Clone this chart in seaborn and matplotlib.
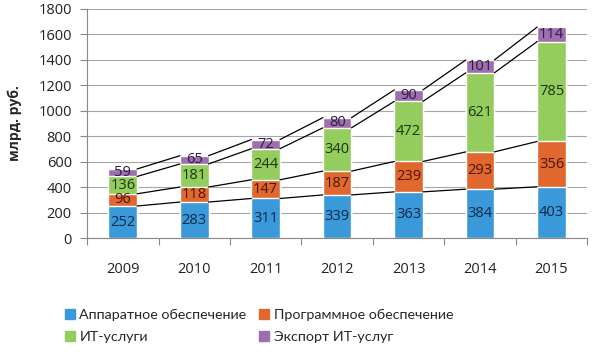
import numpy as np
import pandas as pd
import matplotlib
matplotlib.use("Agg")
import matplotlib.pyplot as plt
import matplotlib.patches as mpatches
import seaborn as sns

years = ["2009", "2010", "2011", "2012", "2013", "2014", "2015"]
hardware = [252, 283, 311, 339, 363, 384, 403]
software = [96, 118, 147, 187, 239, 293, 356]
it_services = [136, 181, 244, 340, 472, 621, 785]
it_export = [59, 65, 72, 80, 90, 101, 114]

series_names = ["Аппаратное обеспечение", "Программное обеспечение",
                "ИТ-услуги", "Экспорт ИТ-услуг"]
series_vals = [hardware, software, it_services, it_export]
colors = ["#3A99D8", "#E0682E", "#95CC5E", "#9E6FAE"]
text_colors = ["#10284A", "#4A1608", "#1C360A", "#2E1840"]

sns.set_theme(style="white")
plt.rcParams["font.family"] = ["Open Sans", "DejaVu Sans"]

df = pd.DataFrame({"year": years})
cum = np.cumsum(np.array(series_vals), axis=0)
for i in range(4):
    df[f"cum{i}"] = cum[i]

fig = plt.figure(figsize=(6.13, 3.58), dpi=100)
ax = fig.add_axes([0.142, 0.335, 0.816, 0.64])

# overlay cumulative bars, tallest first
for i in reversed(range(4)):
    sns.barplot(data=df, x="year", y=f"cum{i}", color=colors[i], width=0.4,
                saturation=1, ax=ax, zorder=2)

w = 0.4
for i in range(4):
    vals = series_vals[i]
    for j, v in enumerate(vals):
        base = cum[i][j] - v
        ax.text(j, base + v / 2, str(v), ha="center", va="center",
                fontsize=10.5, color=text_colors[i], zorder=4)
    # series lines between bars
    for j in range(len(years) - 1):
        ax.plot([j + w / 2, j + 1 - w / 2], [cum[i][j], cum[i][j + 1]],
                color="black", lw=0.9, zorder=3)

ax.set_ylim(0, 1800)
ax.set_xlim(-0.5, len(years) - 0.5)
ax.set_yticks(range(0, 1801, 200))
ax.yaxis.grid(True, color="#A6A6A6", lw=0.8, zorder=0)
ax.set_axisbelow(True)
ax.set_xlabel("")
ax.set_ylabel("млрд. руб.", fontsize=10, fontweight="bold", labelpad=12)
ax.tick_params(axis="x", length=0, pad=17, labelsize=10.5, colors="#222222")
ax.tick_params(axis="y", length=5, width=0.8, color="#888888", labelsize=10.5,
               colors="#222222", left=True, pad=6)
ax.set_xticks(np.arange(-0.5, len(years)), minor=True)
ax.tick_params(axis="x", which="minor", length=5, width=0.8, color="#888888",
               bottom=True)
for s in ["top", "right"]:
    ax.spines[s].set_visible(False)
for s in ["left", "bottom"]:
    ax.spines[s].set_color("#888888")
    ax.spines[s].set_linewidth(0.8)

handles = [mpatches.Patch(color=c, label=n) for c, n in zip(colors, series_names)]
# row-wise order: matplotlib fills legend columns first
order = [0, 2, 1, 3]
fig.legend(handles=[handles[k] for k in order], ncol=2, loc="lower left",
           bbox_to_anchor=(0.085, 0.005), frameon=False,
           prop={"family": ["Lato", "DejaVu Sans"], "size": 10.3},
           handlelength=0.7, handleheight=0.7, handletextpad=0.3,
           columnspacing=0.9, labelspacing=0.75)

fig.savefig("out.png", dpi=100, facecolor="white")
